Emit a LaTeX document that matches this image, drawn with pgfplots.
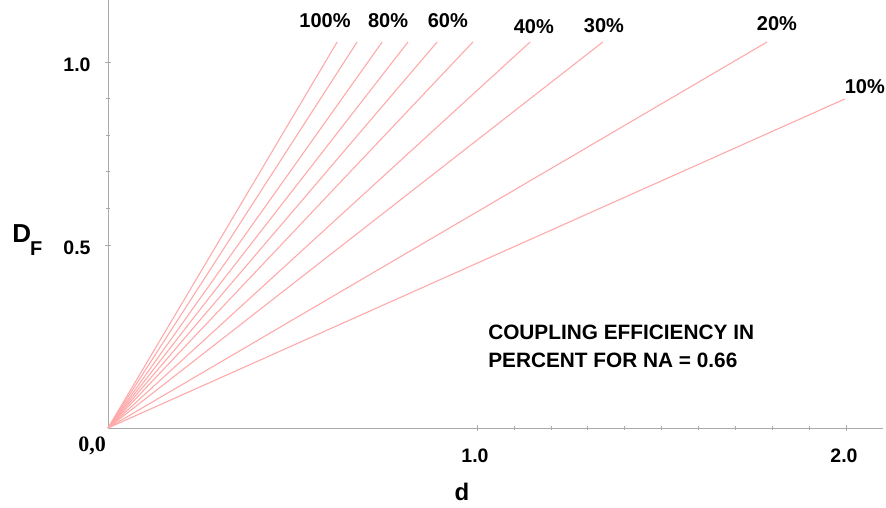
\documentclass[border=0pt]{standalone}
\usepackage{fontspec}
\setmainfont{Liberation Sans}
\newfontfamily\serifb{Liberation Serif}
\usepackage{pgfplots}
\pgfplotsset{compat=1.18}
\definecolor{linecol}{RGB}{255,170,170}
\definecolor{axcol}{RGB}{170,170,170}
\begin{document}
\begin{tikzpicture}
\useasboundingbox (-108pt,-80pt) rectangle (778pt,428pt);
\begin{axis}[
  at={(0pt,0pt)}, anchor=south west,
  scale only axis, width=774.9pt, height=428pt,
  xmin=0, xmax=2.1, ymin=0, ymax=1.1694,
  axis lines*=left,
  axis line style={axcol, line width=0.8pt},
  clip=false,
  xtick={1,2}, xticklabels={1.0,2.0},
  ytick={0.5,1}, yticklabels={0.5,1.0},
  minor x tick num=9, minor y tick num=4,
  tick align=center,
  major tick length=6pt, minor tick length=4pt,
  every tick/.style={axcol, line width=0.6pt},
  xticklabel style={anchor=center, yshift=-25pt, xshift=-2pt, font=\fontsize{19.5}{19.5}\selectfont\bfseries},
  yticklabel style={anchor=center, xshift=-28pt, yshift=-3pt, font=\fontsize{19.5}{19.5}\selectfont\bfseries},
]
\addplot[linecol, line width=1.1pt] coordinates {(0,0) (0.621,1.0546)};
\addplot[linecol, line width=1.1pt] coordinates {(0,0) (0.675,1.0546)};
\addplot[linecol, line width=1.1pt] coordinates {(0,0) (0.743,1.0546)};
\addplot[linecol, line width=1.1pt] coordinates {(0,0) (0.813,1.0546)};
\addplot[linecol, line width=1.1pt] coordinates {(0,0) (0.892,1.0546)};
\addplot[linecol, line width=1.1pt] coordinates {(0,0) (0.989,1.0546)};
\addplot[linecol, line width=1.1pt] coordinates {(0,0) (1.144,1.0546)};
\addplot[linecol, line width=1.1pt] coordinates {(0,0) (1.341,1.0546)};
\addplot[linecol, line width=1.1pt] coordinates {(0,0) (1.786,1.0546)};
\addplot[linecol, line width=1.1pt] coordinates {(0,0) (1.997,0.899)};
\begin{scope}[every node/.style={font=\fontsize{20}{20}\selectfont\bfseries, inner sep=0pt}]
\node at (axis cs:0.588,1.112) {100\%};
\node at (axis cs:0.759,1.112) {80\%};
\node at (axis cs:0.921,1.112) {60\%};
\node at (axis cs:1.154,1.098) {40\%};
\node at (axis cs:1.344,1.098) {30\%};
\node at (axis cs:1.813,1.106) {20\%};
\node at (axis cs:2.051,0.932) {10\%};
\end{scope}
\begin{scope}[every node/.style={font=\fontsize{20.8}{20.8}\selectfont\bfseries, inner sep=0pt}]
\node[anchor=west] at (axis cs:1.030,0.262) {COUPLING EFFICIENCY IN};
\node[anchor=west] at (axis cs:1.030,0.186) {PERCENT FOR NA = 0.66};
\end{scope}
\node[inner sep=0pt, font=\serifb\fontsize{22}{22}\selectfont\bfseries] at (axis cs:-0.043,-0.049) {0,0};
\node[inner sep=0pt, anchor=base, font=\fontsize{24}{24}\selectfont\bfseries] at (axis cs:0.959,-0.197) {d};
\node[inner sep=0pt, anchor=base west, font=\fontsize{26}{26}\selectfont\bfseries] at (axis cs:-0.260,0.508) {D\kern-1pt\raisebox{-13pt}{\fontsize{20}{20}\selectfont F}};
\end{axis}
\end{tikzpicture}
\end{document}
